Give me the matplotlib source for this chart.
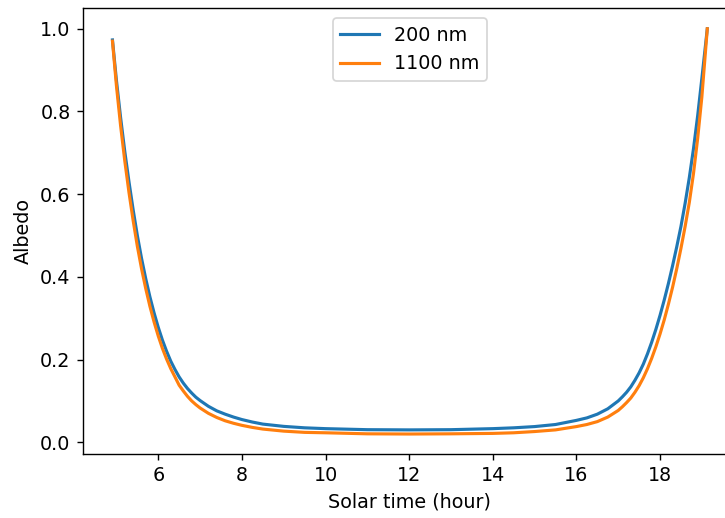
import matplotlib
matplotlib.use("Agg")
import matplotlib.pyplot as plt

# Solar time (hours) and albedo for the two wavelengths
solar_time = [4.905, 5.0, 5.1, 5.2, 5.3, 5.4, 5.5, 5.6, 5.7, 5.8, 5.9, 6.0,
              6.1, 6.2, 6.3, 6.4, 6.5, 6.6, 6.7, 6.8, 6.9, 7.0, 7.2, 7.4,
              7.6, 7.8, 8.0, 8.25, 8.5, 9.0, 9.5, 10.0, 11.0, 12.0, 13.0,
              14.0, 14.5, 15.0, 15.5, 16.0, 16.25, 16.5, 16.75, 17.0, 17.1,
              17.2, 17.3, 17.4, 17.5, 17.6, 17.7, 17.8, 17.9, 18.0, 18.1,
              18.2, 18.3, 18.4, 18.5, 18.6, 18.7, 18.8, 18.9, 19.0, 19.13]

albedo_200nm = [0.973, 0.875, 0.785, 0.703, 0.630, 0.562, 0.500, 0.445, 0.396,
                0.352, 0.313, 0.278, 0.247, 0.220, 0.196, 0.176, 0.158, 0.143,
                0.130, 0.119, 0.109, 0.101, 0.087, 0.076, 0.068, 0.061, 0.055,
                0.049, 0.044, 0.0385, 0.035, 0.033, 0.0305, 0.030, 0.0305,
                0.033, 0.035, 0.038, 0.043, 0.053, 0.059, 0.068, 0.081, 0.100,
                0.110, 0.121, 0.134, 0.150, 0.168, 0.189, 0.214, 0.242, 0.273,
                0.307, 0.344, 0.384, 0.427, 0.473, 0.522, 0.578, 0.640, 0.710,
                0.790, 0.880, 1.0]

albedo_1100nm = [0.970, 0.862, 0.765, 0.680, 0.604, 0.536, 0.474, 0.420, 0.372,
                 0.329, 0.291, 0.257, 0.227, 0.201, 0.178, 0.158, 0.138, 0.124,
                 0.111, 0.100, 0.091, 0.083, 0.070, 0.060, 0.052, 0.046, 0.041,
                 0.036, 0.032, 0.027, 0.024, 0.023, 0.0205, 0.020, 0.0205,
                 0.0215, 0.023, 0.026, 0.030, 0.038, 0.043, 0.050, 0.061, 0.077,
                 0.086, 0.096, 0.107, 0.121, 0.137, 0.156, 0.178, 0.203, 0.231,
                 0.262, 0.296, 0.334, 0.375, 0.420, 0.469, 0.522, 0.580, 0.650,
                 0.735, 0.835, 1.0]

series_labels = ["200 nm", "1100 nm"]

plt.rcParams["font.size"] = 11

fig = plt.figure(figsize=(5.8, 4.144), dpi=125)
ax = fig.add_axes([0.1141, 0.1230, 0.9025, 0.8606])

ax.plot(solar_time, albedo_200nm, color="#1f77b4", lw=1.8, label=series_labels[0])
ax.plot(solar_time, albedo_1100nm, color="#ff7f0e", lw=1.8, label=series_labels[1])

ax.set_xlabel("Solar time (hour)")
ax.set_ylabel("Albedo")
ax.legend(loc="upper center")

fig.savefig("out.png", dpi=125)
